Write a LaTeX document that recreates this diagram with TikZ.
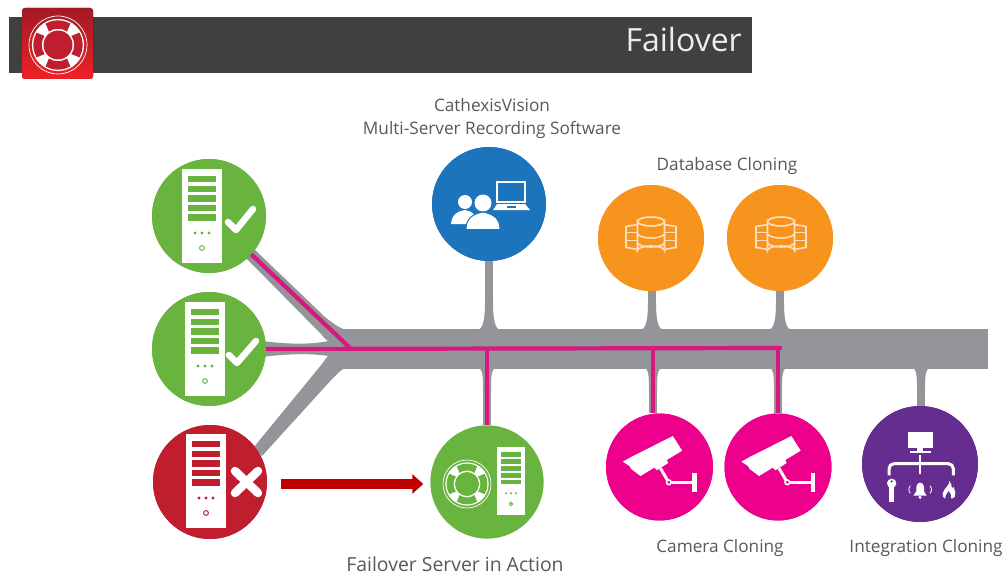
\documentclass[tikz,border=0pt]{standalone}
\usepackage{fontspec}
\setmainfont{Open Sans}
\usetikzlibrary{arrows.meta}
\definecolor{cgray}{HTML}{939598}
\definecolor{cmag}{HTML}{D6187F}
\definecolor{cgreen}{HTML}{69B33F}
\definecolor{cred}{HTML}{BE1E2D}
\definecolor{cblue}{HTML}{1C75BC}
\definecolor{corange}{HTML}{F7941E}
\definecolor{cpink}{HTML}{EC008C}
\definecolor{cpurple}{HTML}{662D91}
\definecolor{ctxt}{HTML}{595959}
\tikzset{
  disc/.style={circle,fill=#1,draw=none,inner sep=0pt},
  lab/.style={text=ctxt,font=\fontsize{17.2}{23}\selectfont,align=center,inner sep=0pt},
  stem/.style={draw=cgray,line width=8pt},
  mline/.style={draw=cmag,line width=4.2pt,line join=miter},
  dbl/.style={draw=#1,line width=1.6pt,fill=none},
}
% server tower: centre x,y ; scale ; bar colour
\newcommand\srvicon[4]{%
  \begin{scope}[shift={(#1,#2)},scale=#3]
    \fill[white] (-20,-47) rectangle (20,47);
    \foreach \yy in {-40,-30.4,-20.8,-11.2,-1.6}{\fill[#4] (-14,\yy) rectangle (14,\yy+6.4);}
    \foreach \xx in {-7,0,7}{\fill[#4] (\xx,17) circle (1.6);}
    \draw[#4,line width=1pt] (0,32) circle (2.4);
  \end{scope}}
% life buoy
\newcommand\buoyicon[4]{%
  \begin{scope}[shift={(#1,#2)},scale=#3]
    \fill[white] (0,0) circle (.9);
    \foreach \a in {0,90,180,270}{%
      \fill[#4] (\a-34:.56) arc[start angle=\a-34,end angle=\a+34,radius=.56]
        -- (\a+30:.85) arc[start angle=\a+30,end angle=\a-30,radius=.85] -- cycle;}
    \fill[#4] (0,0) circle (.5);
    \draw[white,line width=.7pt] (0,0) circle (1);
  \end{scope}}
% database
\newcommand\dbicon[3]{%
  \begin{scope}[shift={(#1,#2)}]
    \foreach \s in {-1,1}{%
      \draw[dbl=#3] (\s*13,-12) -- (\s*25,-10) -- (\s*25,11) -- (\s*13,13);
      \draw[dbl=#3] (\s*13,-4) -- (\s*25,-4) (\s*13,4) -- (\s*25,4);}
    \draw[dbl=#3,fill=corange] (-13.5,-15) arc[start angle=180,end angle=360,x radius=13.5,y radius=-4.5]
      -- (13.5,14) arc[start angle=0,end angle=180,x radius=13.5,y radius=-4.5] -- cycle;
    \draw[dbl=#3] (-13.5,-15) arc[start angle=180,end angle=0,x radius=13.5,y radius=-4.5];
    \draw[dbl=#3] (-13.5,-3) arc[start angle=180,end angle=360,x radius=13.5,y radius=-4.5];
    \draw[dbl=#3] (-13.5,6) arc[start angle=180,end angle=360,x radius=13.5,y radius=-4.5];
  \end{scope}}
% camera, drawn in 3x zoom units about the disc centre
\newcommand\camicon[2]{%
  \begin{scope}[shift={(#1,#2)},scale=1/3]
    \fill[white] (-110,-16) -- (-85,-30) -- (40,-93) -- (68,-49) -- (-57,27) -- (-85,6) -- (-90,-3) -- cycle;
    \fill[white] (-25,-8) -- (18,-30) -- (26,-12) -- (-8,10) -- cycle;
    \draw[white,line width=3pt] (3,4) -- (24,40);
    \draw[white,line width=1.6pt] (28,46) circle (7);
    \draw[white,line width=3.2pt] (36,46) -- (100,46);
    \fill[white] (98,19) rectangle (111,74);
  \end{scope}}
\begin{document}
\begin{tikzpicture}[x=1pt,y=-1pt]
\useasboundingbox (0,0) rectangle (1007,575);
\fill[white] (0,0) rectangle (1007,575);
% header
\fill[black!75] (9,17) rectangle (752,73);
\fill[top color=cred!85!black,bottom color=red!70!cred!90!white,rounded corners=3pt] (22,8) rectangle (93,79);
\buoyicon{58}{45}{29}{cred}
\node[anchor=east,inner sep=0pt,text=white!93!black,font=\fontsize{32}{36}\selectfont] (title) at (742,40) {Failover};

% bus
\node[fill=cgray,inner sep=0pt,minimum width=648pt,minimum height=40pt,anchor=west] (bus) at (340,349) {};
\coordinate (j0) at (350,348);
\coordinate (j1) at (487,348);
\coordinate (j2) at (653,348);
\coordinate (j3) at (780,348);

% named discs (positions)
\node[disc=cgreen,minimum size=114pt] (s1) at (209,216) {};
\node[disc=cgreen,minimum size=114pt] (s2) at (209,349) {};
\node[disc=cred,minimum size=114pt] (s3) at (210,482) {};
\node[disc=cgreen,minimum size=113pt] (fo) at (487,482) {};
\node[disc=cblue,minimum size=114pt] (cv) at (489,204) {};
\node[disc=corange,minimum size=106pt] (db1) at (651,238) {};
\node[disc=corange,minimum size=106pt] (db2) at (780,238) {};
\node[disc=cpink,minimum size=107pt] (cam1) at (659.5,467) {};
\node[disc=cpink,minimum size=107pt] (cam2) at (778,467) {};
\node[disc=cpurple,minimum size=116pt] (ig) at (920,464) {};

% gray fork
\fill[cgray] (345,329) -- (343,329) .. controls (336,326) and (330,321) .. (325,317) -- (254,249)
  -- (246,258) -- (322,335) .. controls (324,338) and (326,340) .. (328,341)
  .. controls (310,345) and (285,344) .. (262,341) -- (262,357)
  .. controls (285,354) and (310,353) .. (328,356)
  .. controls (326,358) and (324,361) .. (322,364) -- (254,447) -- (262,456)
  -- (332,379) .. controls (336,375) and (340,371) .. (343,369) -- (345,369) -- cycle;
% gray stems
\foreach \n/\x in {cv/489,db1/652,db2/780}{%
  \draw[stem] (\n.south -| \x,0) -- (\x,330);
  \fill[cgray] (\x-10,329.5) .. controls (\x-5,327) and (\x-4,315) .. (\x-4,302) -- (\x+4,302) .. controls (\x+4,315) and (\x+5,327) .. (\x+10,329.5) -- cycle;
}
\foreach \n/\x in {fo/487,cam1/653,cam2/778,ig/921}{%
  \draw[stem] (\x,368) -- (\n.north -| \x,0);
  \fill[cgray] (\x-7,368.5) .. controls (\x-4,372) and (\x-4,380) .. (\x-4,390) -- (\x+4,390) .. controls (\x+4,380) and (\x+4,372) .. (\x+7,368.5) -- cycle;
}
% magenta connectors
\draw[mline] (s1) ++(41,37) -- (j0);
\draw[mline] (s2.east) -- (j3);
\draw[mline] (j1) -- (j1 |- fo.north);
\draw[mline] (j2) -- (j2 |- cam1.north);
\draw[mline] ([xshift=-2pt]j3) -- ([xshift=-2pt]j3 |- cam2.north);
\fill[cmag] (777,346) rectangle (782,350);

% discs over connector ends
\node[disc=cgreen,minimum size=114pt] at (s1) {};
\node[disc=cgreen,minimum size=114pt] at (s2) {};
\node[disc=cred,minimum size=114pt] at (s3) {};
\node[disc=cgreen,minimum size=113pt] at (fo) {};
\node[disc=cblue,minimum size=114pt] at (cv) {};
\node[disc=corange,minimum size=106pt] at (db1) {};
\node[disc=corange,minimum size=106pt] at (db2) {};
\node[disc=cpink,minimum size=107pt] at (cam1) {};
\node[disc=cpink,minimum size=107pt] at (cam2) {};
\node[disc=cpurple,minimum size=116pt] at (ig) {};

% arrow
\draw[line width=10.5pt,draw=red!75!black,-{Triangle[width=19pt,length=11pt]},shorten <=14pt,shorten >=7pt]
  ([yshift=-2pt]s3.east) -- ([yshift=-2pt]s3.east -| fo.west);

% server icons
\srvicon{202}{216}{1}{cgreen}
\srvicon{205}{349}{1}{cgreen}
\srvicon{206}{481}{1}{cred}
\srvicon{511}{481}{.72}{cgreen}
\draw[white,line width=6.5pt,line cap=round,line join=round] (228,222) -- (236,230) -- (253,209);
\draw[white,line width=6.5pt,line cap=round,line join=round] (229,355) -- (237,363) -- (256,341);
\draw[white,line width=8.5pt,line cap=round] (235,471) -- (258,493) (258,471) -- (235,493);

% life buoy in failover disc
\buoyicon{467}{484}{24}{cgreen}

% blue disc icon
\fill[white] (465,202) circle (7);
\fill[white] (451,224) .. controls (452,214) and (458,211) .. (465,210) .. controls (472,211) and (476,214) .. (476,224) -- cycle;
\fill[white] (483,203) circle (8.5);
\draw[cblue,line width=1pt,fill=white] (466,229.5) .. controls (466,218) and (473,214) .. (483,212) .. controls (493,214) and (500,218) .. (500,229.5) -- cycle;
\draw[white,line width=1.6pt] (497,182) rectangle (525,202);
\fill[white] (497,204) -- (525,204) -- (530,210) -- (493,210) -- cycle;
\fill[cblue] (507,206) rectangle (516,207.5);

% databases
\dbicon{651}{236.5}{orange!25!white}
\dbicon{781}{236.5}{orange!25!white}

% cameras
\camicon{659.5}{467}
\camicon{778}{467}

% integration icon
\begin{scope}[shift={(590,320)},scale=1/3]
  \fill[white] (955,335) rectangle (1028,385);
  \fill[white] (982,385) rectangle (998,392);
  \fill[white] (960,392) rectangle (1022,400);
  \draw[white,line width=2.8pt] (990,405) -- (990,462);
  \draw[white,line width=3pt,rounded corners=5pt] (897,466) -- (897,431) -- (1090,431) -- (1090,466);
  \fill[white] (905,490) circle (14);
  \fill[cpurple] (905,484) circle (3.5);
  \fill[white] (898,500) rectangle (912,547);
  \fill[white] (970,527) -- (979,514) -- (979,500) .. controls (980,492) and (985,488) .. (990,488) .. controls (996,488) and (1001,492) .. (1002,500) -- (1002,514) -- (1010,527) -- cycle;
  \fill[white] (990,532) circle (5);
  \draw[white,line width=.8pt] (961,497) .. controls (955,505) and (955,512) .. (961,520);
  \draw[white,line width=.8pt] (1020,497) .. controls (1026,505) and (1026,512) .. (1020,520);
  \fill[white] (1078,483) .. controls (1080,495) and (1062,505) .. (1058,520) .. controls (1056,528) and (1060,534) .. (1066,536) .. controls (1064,525) and (1072,520) .. (1076,512) .. controls (1082,520) and (1086,528) .. (1084,536) .. controls (1094,534) and (1098,526) .. (1096,518) .. controls (1095,510) and (1092,505) .. (1090,500) -- (1086,506) .. controls (1086,497) and (1083,489) .. (1078,483) -- cycle;
\end{scope}

% labels
\node[lab] (l1) at (492,119) {CathexisVision\\Multi-Server Recording Software};
\node[lab] (l2) at (727,166) {Database Cloning};
\node[lab,font=\fontsize{19.4}{23}\selectfont] (l3) at (455,564) {Failover Server in Action};
\node[lab] (l4) at (720,548) {Camera Cloning};
\node[lab] (l5) at (926,548) {Integration Cloning};
\end{tikzpicture}
\end{document}
